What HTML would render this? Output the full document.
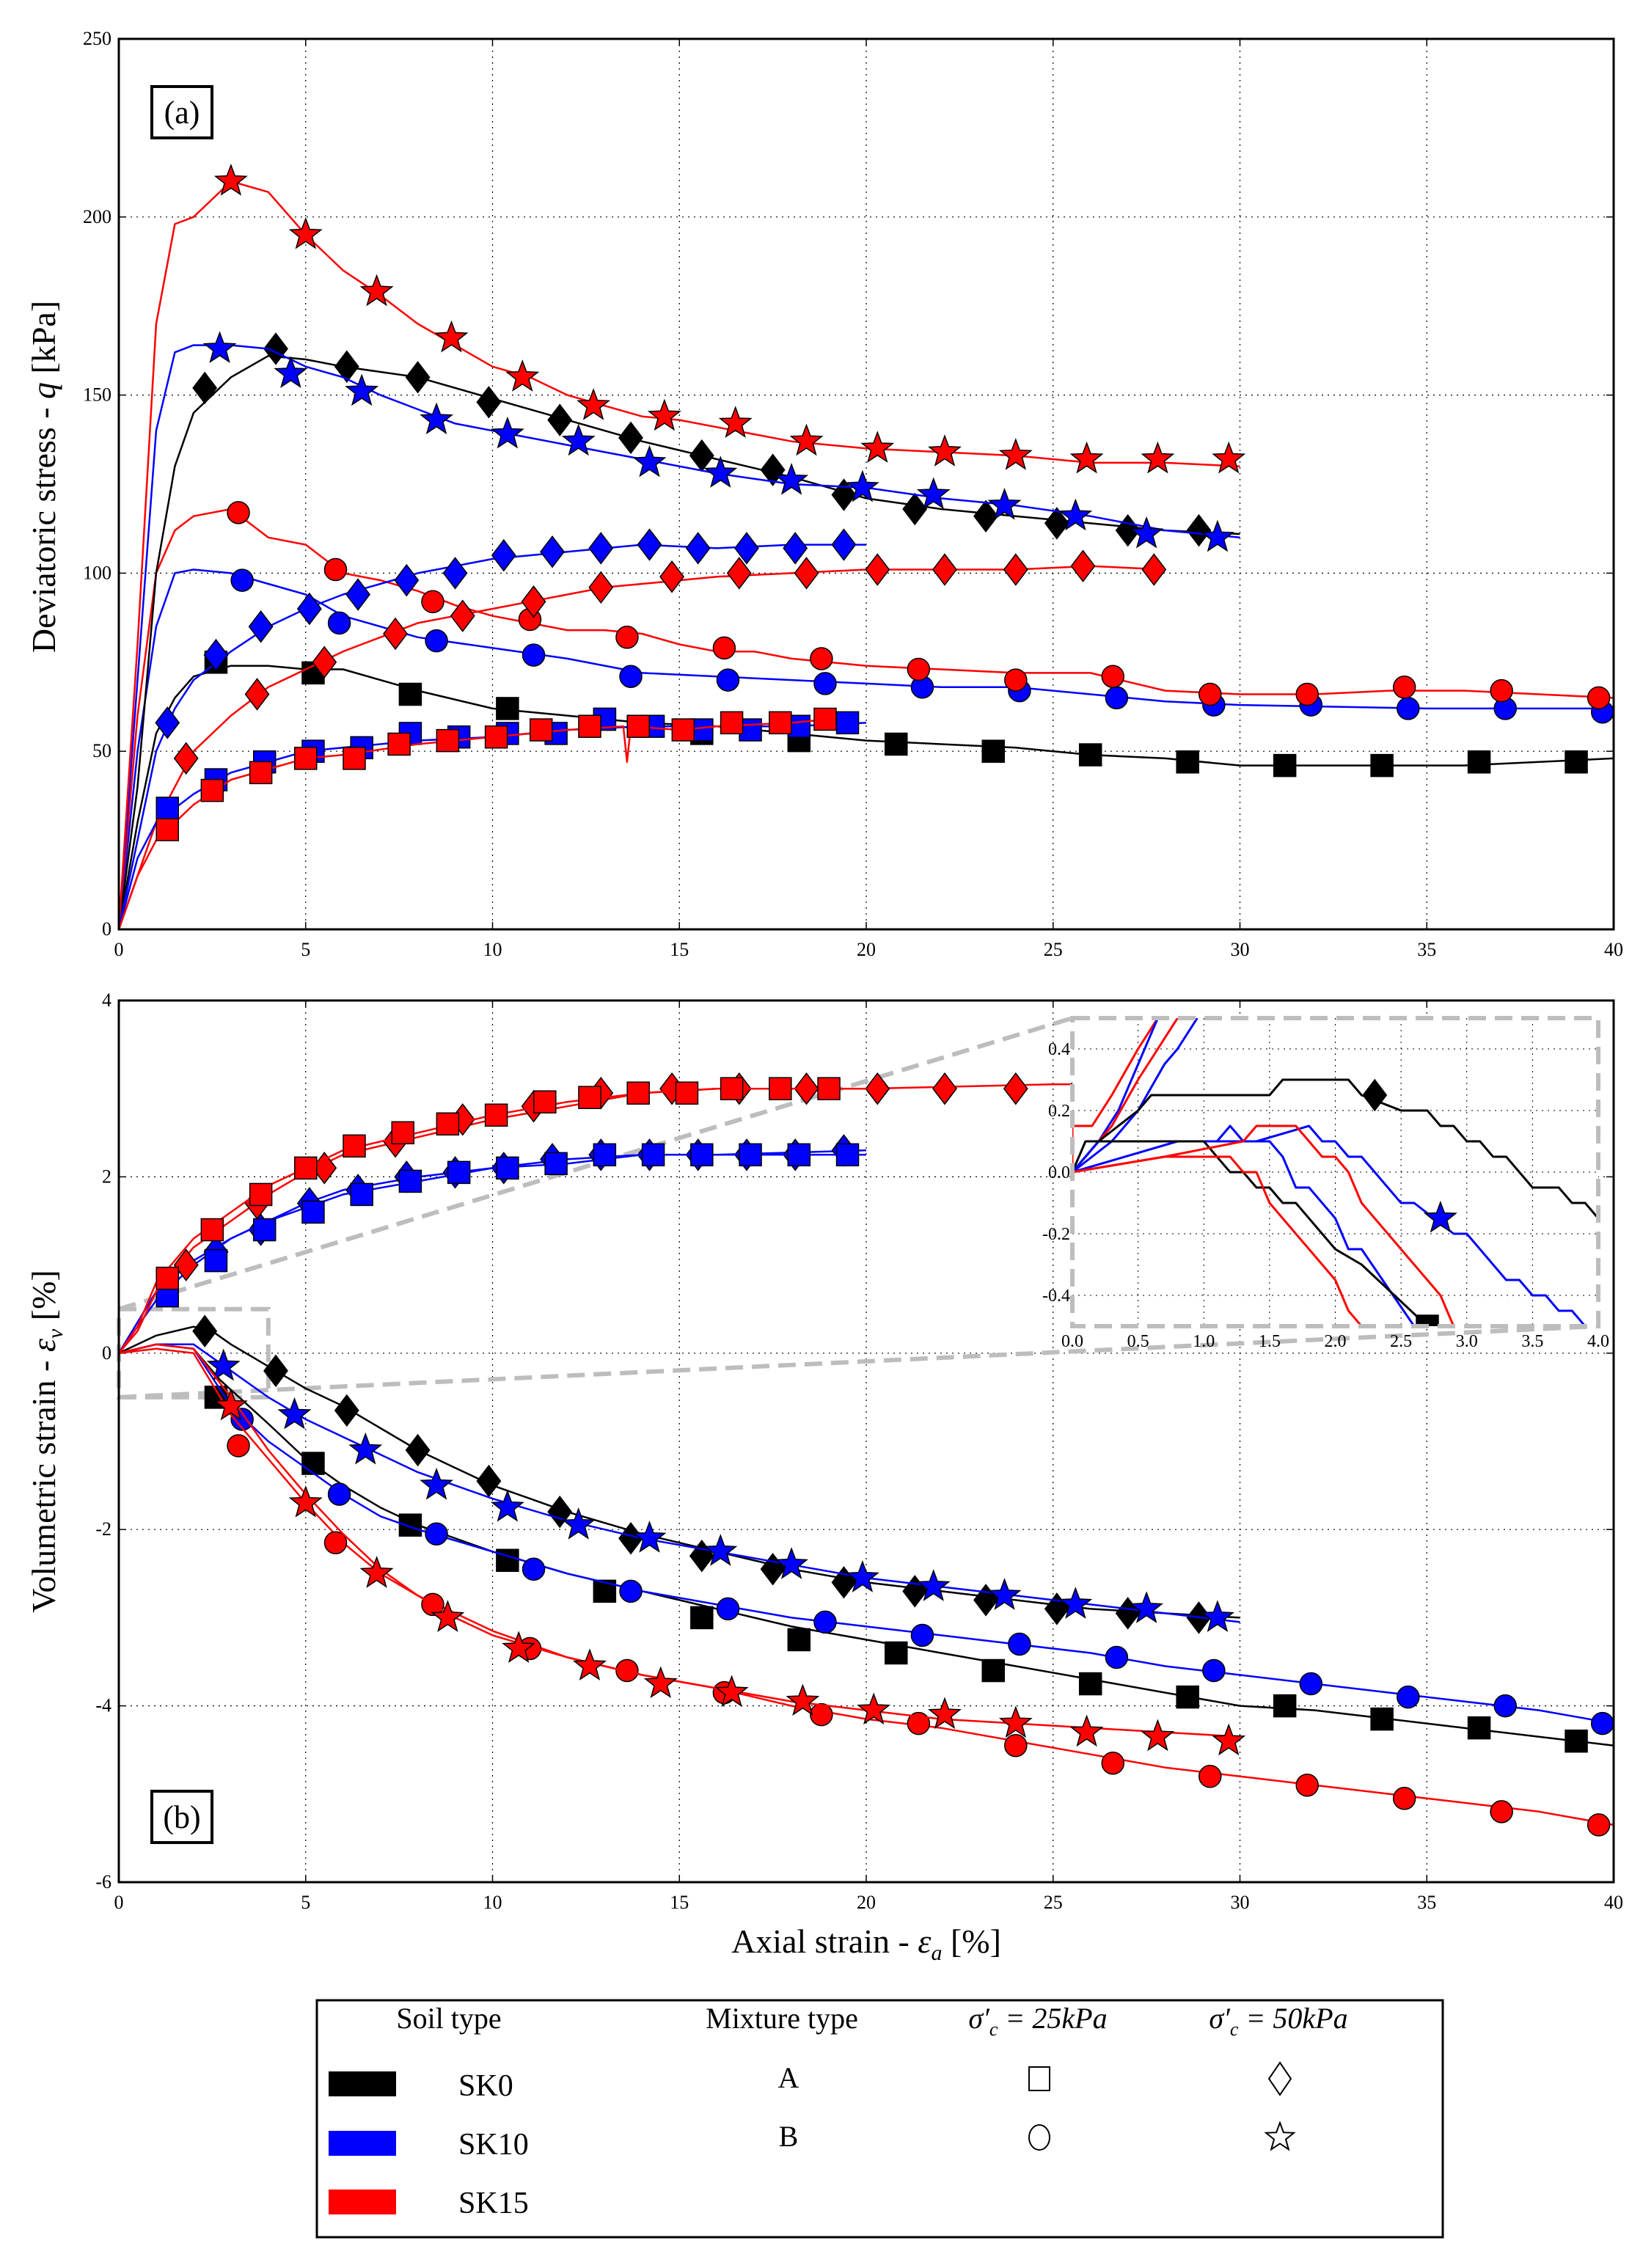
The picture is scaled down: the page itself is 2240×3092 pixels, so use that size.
<!DOCTYPE html>
<html><head><meta charset="utf-8">
<style>
html,body{margin:0;padding:0;background:#fff;}
svg, svg text{font-family:"Liberation Serif","DejaVu Serif",serif;}
</style></head>
<body>
<svg id="fig" width="2240" height="3087" viewBox="0 0 2240 3087" xmlns="http://www.w3.org/2000/svg" font-family="Liberation Serif, DejaVu Serif, serif">
<rect width="2240" height="3087" fill="#fff"/>
<g id="gA"></g>
<g id="gB"></g>
<g id="gI"></g>
<g id="legend">
  <rect x="432" y="2727" width="1535" height="323" fill="#fff" stroke="#000" stroke-width="3"/>
  <text x="612" y="2765" font-size="40" text-anchor="middle">Soil type</text>
  <text x="1066" y="2765" font-size="40" text-anchor="middle">Mixture type</text>
  <text x="1415" y="2765" font-size="40" text-anchor="middle" font-style="italic">σ′<tspan font-size="26" dy="10">c</tspan><tspan dy="-10"> = 25kPa</tspan></text>
  <text x="1743" y="2765" font-size="40" text-anchor="middle" font-style="italic">σ′<tspan font-size="26" dy="10">c</tspan><tspan dy="-10"> = 50kPa</tspan></text>
  <rect x="448" y="2824" width="92" height="34" fill="#000"/>
  <rect x="448" y="2905" width="92" height="34" fill="#0000ff"/>
  <rect x="448" y="2985" width="92" height="34" fill="#ff0000"/>
  <text x="625" y="2857" font-size="42">SK0</text>
  <text x="625" y="2937" font-size="42">SK10</text>
  <text x="625" y="3017" font-size="42">SK15</text>
  <text x="1075" y="2846" font-size="40" text-anchor="middle">A</text>
  <text x="1075" y="2926" font-size="40" text-anchor="middle">B</text>
  <rect x="1403" y="2818" width="28" height="32" fill="none" stroke="#000" stroke-width="2"/>
  <ellipse cx="1417" cy="2914" rx="14" ry="17" fill="none" stroke="#000" stroke-width="2"/>
  <polygon points="1745,2812 1760,2834 1745,2856 1730,2834" fill="none" stroke="#000" stroke-width="2"/>
  <polygon id="legstar" fill="none" stroke="#000" stroke-width="2"/>
</g>
</svg>
<script>
const catSeries = ["SK0-A-25","SK10-A-25","SK15-A-25","SK0-B-25","SK10-B-25","SK15-B-25","SK0-A-50","SK10-A-50","SK15-A-50","SK0-B-50","SK10-B-50","SK15-B-50"];
const xTicks = [0,5,10,15,20,25,30,35,40];
const yTicksA = [0,50,100,150,200,250];
const yTicksB = [-6,-4,-2,0,2,4];
const insetXTicks = ["0.0","0.5","1.0","1.5","2.0","2.5","3.0","3.5","4.0"];
const insetYTicks = ["-0.4","-0.2","0.0","0.2","0.4"];

const aSqK_x=[0,0.5,1,1.5,2,3,4,5,6,7,8,10,12,14,16,18,20,22,24,26,28,30,32,34,36,38,40];
const aSqK_y=[0,30,55,65,71,74,74,73,73,70,67,62,60,58,57,55,53,52,51,49,48,46,46,46,46,47,48];
const aSqK_mx=[2.6,5.2,7.8,10.4,13,15.6,18.2,20.8,23.4,26,28.6,31.2,33.8,36.4,39];
const aSqK_my=[75,72,66,62,59,55,53,52,50,49,47,46,46,47,47];
const aSqB_x=[0,0.5,1,2,3,4,5,6,8,10,12,14,16,18,20];
const aSqB_y=[0,20,30,38,44,47,50,51,53,54,56,57,57,57,58];
const aSqB_mx=[1.3,2.6,3.9,5.2,6.5,7.8,9.1,10.4,11.7,13,14.3,15.6,16.9,18.2,19.5];
const aSqB_my=[34,42,47,50,51,55,54,55,55,59,57,56,56,57,58];
const aSqR_x=[0,0.5,1,2,3,4,5,6,8,10,12,13.5,13.6,13.7,15,16,18,19];
const aSqR_y=[0,15,25,35,42,45,48,49,52,54,56,57,47,57,56,57,58,59];
const aSqR_mx=[1.3,2.5,3.8,5,6.3,7.5,8.8,10.1,11.3,12.6,13.9,15.1,16.4,17.7,18.9];
const aSqR_my=[28,39,44,48,48,52,53,54,56,57,57,56,58,58,59];
const aCiB_x=[0,0.5,1,1.5,2,3,4,5,6,7,8,10,12,14,16,18,20,22,24,26,28,30,35,40];
const aCiB_y=[0,50,85,100,101,100,97,94,88,85,82,79,76,72,71,70,69,68,68,66,64,63,62,62];
const aCiB_mx=[3.3,5.9,8.5,11.1,13.7,16.3,18.9,21.5,24.1,26.7,29.3,31.9,34.5,37.1,39.7];
const aCiB_my=[98,86,81,77,71,70,69,68,67,65,63,63,62,62,61];
const aCiR_x=[0,0.5,1,1.5,2,3,4,5,6,7,8,9,10,11,12,13,14,15,16,17,18,20,22,24,26,28,30,32,34,36,38,40];
const aCiR_y=[0,60,100,112,116,118,110,108,100,98,95,91,88,86,84,84,83,80,78,78,76,74,73,72,72,67,66,66,67,67,66,65];
const aCiR_mx=[3.2,5.8,8.4,11,13.6,16.2,18.8,21.4,24,26.6,29.2,31.8,34.4,37,39.6];
const aCiR_my=[117,101,92,87,82,79,76,73,70,71,66,66,68,67,65];
const aDiB_x=[0,0.5,1,1.5,2,3,4,5,6,7,8,10,12,14,16,18,20];
const aDiB_y=[0,25,50,62,70,78,85,90,94,97,100,104,106,108,107,108,108];
const aDiB_mx=[1.3,2.6,3.8,5.1,6.4,7.7,9,10.3,11.6,12.9,14.2,15.5,16.8,18.1,19.4];
const aDiB_my=[58,77,85,90,94,98,100,105,106,107,108,107,107,107,108];
const aDiR_x=[0,0.5,1,2,3,4,5,6,7,8,9,10,11,12,13,14,16,18,20,22,24,26,28];
const aDiR_y=[0,15,30,50,60,68,73,78,82,86,88,90,92,94,96,97,99,100,101,101,101,102,101];
const aDiR_mx=[1.8,3.7,5.5,7.4,9.2,11.1,12.9,14.8,16.6,18.4,20.3,22.1,24,25.8,27.7];
const aDiR_my=[48,66,75,83,88,92,96,99,100,100,101,101,101,102,101];
const aDiK_x=[0,0.5,1,1.5,2,3,4,5,6,8,10,12,14,16,18,20,22,24,26,28,30];
const aDiK_y=[0,40,100,130,145,155,161,160,158,155,149,143,137,132,127,121,118,116,114,112,111];
const aDiK_mx=[2.3,4.2,6.1,8,9.9,11.8,13.7,15.6,17.5,19.4,21.3,23.2,25.1,27,28.9];
const aDiK_my=[152,163,158,155,148,143,138,133,129,122,118,116,114,112,112];
const aStB_x=[0,0.5,1,1.5,2,3,4,5,6,7,8,9,10,11,12,14,16,18,20,22,24,26,28,30];
const aStB_y=[0,70,140,162,164,164,163,158,155,150,146,142,140,138,136,132,128,125,124,121,119,116,112,110];
const aStB_mx=[2.7,4.6,6.5,8.5,10.4,12.3,14.2,16.1,18,19.9,21.8,23.7,25.6,27.5,29.4];
const aStB_my=[163,156,151,143,139,137,131,128,126,124,122,119,116,111,110];
const aStR_x=[0,0.5,1,1.5,2,2.5,3,4,5,6,7,8,9,10,11,12,13,14,15,16,18,20,22,24,26,28,30];
const aStR_y=[0,80,170,198,200,205,210,207,195,185,178,170,164,158,155,150,147,144,143,141,137,135,134,133,131,131,130];
const aStR_mx=[3,5,6.9,8.9,10.8,12.7,14.6,16.5,18.4,20.3,22.1,24,25.9,27.8,29.7];
const aStR_my=[210,195,179,166,155,147,144,142,137,135,134,133,132,132,132];

const bSqR_x=[0,0.5,1,2,3,4,5,6,7,8,10,12,14,16,20];
const bSqR_y=[0,0.3,0.8,1.3,1.6,1.9,2.1,2.3,2.4,2.5,2.7,2.85,2.95,3.0,3.0];
const bSqR_mx=[1.3,2.5,3.8,5,6.3,7.6,8.8,10.1,11.4,12.6,13.9,15.2,16.4,17.7,19];
const bSqR_my=[0.85,1.4,1.8,2.1,2.35,2.5,2.6,2.7,2.85,2.9,2.95,2.95,3.0,3.0,3.0];
const bDiR_x=[0,0.5,1,2,3,4,5,6,7,8,10,12,14,16,20,25,30];
const bDiR_y=[0,0.25,0.7,1.2,1.5,1.8,2.05,2.25,2.35,2.45,2.65,2.8,2.95,3.0,3.0,3.05,3.05];
const bDiR_mx=[1.8,3.7,5.5,7.4,9.2,11.1,12.9,14.8,16.6,18.4,20.3,22.1,24,25.8];
const bDiR_my=[1.0,1.7,2.1,2.4,2.65,2.8,2.95,3.0,3.0,3.0,3.0,3.0,3.0,3.05];
const bSqB_x=[0,1,2,3,4,5,6,8,10,12,14,16,20];
const bSqB_y=[0,0.6,1.0,1.3,1.5,1.65,1.8,1.95,2.1,2.15,2.25,2.25,2.25];
const bSqB_mx=[1.3,2.6,3.9,5.2,6.5,7.8,9.1,10.4,11.7,13,14.3,15.6,16.9,18.2,19.5];
const bSqB_my=[0.65,1.05,1.4,1.6,1.8,1.95,2.05,2.1,2.15,2.25,2.25,2.25,2.25,2.25,2.25];
const bDiB_x=[0,1,2,3,4,5,6,8,10,12,14,16,20];
const bDiB_y=[0,0.7,1.05,1.3,1.5,1.7,1.85,2.0,2.1,2.2,2.25,2.25,2.3];
const bDiB_mx=[2.6,3.8,5.1,6.4,7.7,9,10.3,11.6,12.9,14.2,15.5,16.8,18.1,19.4];
const bDiB_my=[1.15,1.4,1.7,1.85,2.0,2.05,2.1,2.2,2.25,2.25,2.25,2.25,2.25,2.3];
const bDiK_x=[0,1,2,2.5,3,4,5,6,7,8,9,10,11,12,14,16,18,20,22,24,26,28,30];
const bDiK_y=[0,0.2,0.3,0.25,0.1,-0.15,-0.4,-0.6,-0.85,-1.1,-1.3,-1.5,-1.65,-1.8,-2.05,-2.25,-2.45,-2.6,-2.7,-2.8,-2.9,-2.95,-3.0];
const bDiK_mx=[2.3,4.2,6.1,8,9.9,11.8,13.7,15.6,17.5,19.4,21.3,23.2,25.1,27,28.9];
const bDiK_my=[0.25,-0.2,-0.65,-1.1,-1.45,-1.8,-2.1,-2.3,-2.45,-2.6,-2.7,-2.8,-2.9,-2.95,-3.0];
const bStB_x=[0,1,2,3,4,5,6,7,8,10,12,14,16,18,20,22,24,26,28,30];
const bStB_y=[0,0.1,0.1,-0.2,-0.5,-0.75,-0.95,-1.15,-1.35,-1.65,-1.9,-2.1,-2.25,-2.4,-2.55,-2.65,-2.75,-2.85,-2.95,-3.05];
const bStB_mx=[2.8,4.7,6.6,8.5,10.4,12.3,14.2,16.1,18,19.9,21.8,23.7,25.6,27.5,29.4];
const bStB_my=[-0.15,-0.7,-1.1,-1.5,-1.75,-1.95,-2.1,-2.25,-2.4,-2.55,-2.65,-2.75,-2.85,-2.9,-3.0];
const bCiB_x=[0,1,2,3,4,5,6,7,8,10,12,14,16,18,20,22,24,26,28,30,32,34,36,38,40];
const bCiB_y=[0,0.1,0.05,-0.6,-1.0,-1.3,-1.6,-1.85,-2.0,-2.25,-2.5,-2.7,-2.85,-3.0,-3.1,-3.2,-3.3,-3.4,-3.55,-3.65,-3.75,-3.85,-3.95,-4.05,-4.2];
const bCiB_mx=[3.3,5.9,8.5,11.1,13.7,16.3,18.9,21.5,24.1,26.7,29.3,31.9,34.5,37.1,39.7];
const bCiB_my=[-0.75,-1.6,-2.05,-2.45,-2.7,-2.9,-3.05,-3.2,-3.3,-3.45,-3.6,-3.75,-3.9,-4.0,-4.2];
const bSqK_x=[0,1,2,2.7,4,5,6,7,8,10,12,14,16,18,20,22,24,26,28,30,32,34,36,38,40];
const bSqK_y=[0,0.1,0.05,-0.3,-0.8,-1.2,-1.5,-1.75,-1.95,-2.25,-2.5,-2.7,-2.9,-3.1,-3.25,-3.4,-3.55,-3.7,-3.85,-4.0,-4.05,-4.15,-4.25,-4.35,-4.45];
const bSqK_mx=[2.6,5.2,7.8,10.4,13,15.6,18.2,20.8,23.4,26,28.6,31.2,33.8,36.4,39];
const bSqK_my=[-0.5,-1.25,-1.95,-2.35,-2.7,-3.0,-3.25,-3.4,-3.6,-3.75,-3.9,-4.0,-4.15,-4.25,-4.4];
const bStR_x=[0,1,2,3,4,5,6,7,8,9,10,12,14,16,18,20,22,24,26,28,30];
const bStR_y=[0,0.1,0.05,-0.5,-1.1,-1.6,-2.05,-2.45,-2.75,-3.0,-3.2,-3.45,-3.65,-3.8,-3.95,-4.05,-4.15,-4.2,-4.25,-4.3,-4.35];
const bStR_mx=[3,5,6.9,8.8,10.7,12.6,14.5,16.4,18.3,20.2,22.1,24,25.9,27.8,29.7];
const bStR_my=[-0.6,-1.7,-2.5,-3.0,-3.35,-3.55,-3.75,-3.85,-3.95,-4.05,-4.1,-4.2,-4.3,-4.35,-4.4];
const bCiR_x=[0,1,2,3,4,5,6,7,8,10,12,14,16,18,20,22,24,26,28,30,32,34,36,38,40];
const bCiR_y=[0,0.05,0,-0.7,-1.2,-1.7,-2.15,-2.5,-2.75,-3.15,-3.45,-3.65,-3.8,-4.0,-4.15,-4.25,-4.4,-4.55,-4.7,-4.8,-4.9,-5.0,-5.1,-5.2,-5.35];
const bCiR_mx=[3.2,5.8,8.4,11,13.6,16.2,18.8,21.4,24,26.6,29.2,31.8,34.4,37,39.6];
const bCiR_my=[-1.05,-2.15,-2.85,-3.35,-3.6,-3.85,-4.1,-4.2,-4.45,-4.65,-4.8,-4.9,-5.05,-5.2,-5.35];

const iDiK_x=[0,0.2,0.5,0.6,0.8,1.5,1.6,2.1,2.2,2.5,2.7,2.8,2.9,3.0,3.1,3.2,3.3,3.5,3.7,3.8,3.9,4.0];
const iDiK_y=[0,0.1,0.2,0.25,0.25,0.25,0.3,0.3,0.25,0.2,0.2,0.15,0.15,0.1,0.1,0.05,0.05,-0.05,-0.05,-0.1,-0.1,-0.15];
const iStB_x=[0,0.2,1.1,1.2,1.3,1.4,1.8,1.9,2.0,2.1,2.2,2.5,2.6,2.75,2.9,3.0,3.3,3.4,3.5,3.6,3.7,3.8,3.9];
const iStB_y=[0,0.1,0.1,0.15,0.1,0.1,0.15,0.1,0.1,0.05,0.05,-0.1,-0.1,-0.15,-0.2,-0.2,-0.35,-0.35,-0.4,-0.4,-0.45,-0.45,-0.5];
const iCiB_x=[0,0.8,1.5,1.6,1.7,1.8,2.0,2.1,2.2,2.6];
const iCiB_y=[0,0.1,0.1,0.05,-0.05,-0.05,-0.15,-0.25,-0.25,-0.5];
const iSqK_x=[0,0.1,1.0,1.2,1.3,1.4,1.5,1.6,1.7,2.0,2.2,2.7];
const iSqK_y=[0,0.1,0.1,0.0,0.0,-0.05,-0.05,-0.1,-0.1,-0.25,-0.3,-0.5];
const iStR_x=[0,0.7,1.3,1.4,1.7,1.9,2.0,2.1,2.2,2.8,2.9];
const iStR_y=[0,0.05,0.1,0.15,0.15,0.05,0.05,0,-0.1,-0.4,-0.5];
const iCiR_x=[0,0.7,1.2,1.3,1.4,1.5,1.7,2.0,2.1,2.2];
const iCiR_y=[0,0.05,0.05,0,0,-0.1,-0.2,-0.35,-0.45,-0.5];
const iUpR1_x=[0,0,0.15,0.3,0.5,0.65];
const iUpR1_y=[0,0.15,0.15,0.25,0.4,0.5];
const iUpB1_x=[0,0.2,0.35,0.5,0.65];
const iUpB1_y=[0,0.1,0.2,0.35,0.5];
const iUpR2_x=[0,0.3,0.5,0.8];
const iUpR2_y=[0,0.15,0.3,0.5];
const iUpB2_x=[0,0.3,0.5,0.7,0.8,0.95];
const iUpB2_y=[0,0.1,0.2,0.35,0.4,0.5];

const NS="http://www.w3.org/2000/svg";
const FF="Liberation Serif, DejaVu Serif, serif";
const K="#000", B="#0000ff", R="#ff0000";
function mk(tag, attrs, parent){const e=document.createElementNS(NS,tag);for(const k in attrs)e.setAttribute(k,attrs[k]);if(tag==='text')e.setAttribute('font-family',FF);parent.appendChild(e);return e;}
document.querySelectorAll('#legend text').forEach(t=>t.setAttribute('font-family',FF));

const L=162, Rr=2200;
const sx = v => L + v*(Rr-L)/40;
const syA = v => 1267 - v*(1267-53)/250;
const syB = v => 2566 - (v+6)*(2566-1364)/10;

function starPts(cx,cy,r){let p=[];for(let i=0;i<10;i++){const a=-Math.PI/2+i*Math.PI/5;const rr=i%2?r*0.42:r;p.push((cx+rr*Math.cos(a)).toFixed(1)+","+(cy+rr*Math.sin(a)).toFixed(1));}return p.join(" ");}
document.getElementById('legstar').setAttribute('points',starPts(1745,2914,20));

function marker(g,type,cx,cy,col,name,scale){
  scale=scale||1;let e;
  if(type==="sq") e=mk('rect',{x:cx-15*scale,y:cy-15*scale,width:30*scale,height:30*scale},g);
  else if(type==="ci") e=mk('circle',{cx:cx,cy:cy,r:15*scale},g);
  else if(type==="di") e=mk('polygon',{points:`${cx},${cy-21*scale} ${cx+16*scale},${cy} ${cx},${cy+21*scale} ${cx-16*scale},${cy}`},g);
  else e=mk('polygon',{points:starPts(cx,cy,22*scale)},g);
  e.setAttribute('fill',col);e.setAttribute('stroke','#000');e.setAttribute('stroke-width','1.5');
  
  
}
function series(g,xs,ys,mx,my,fx,fy,col,type,name,lw){
  const pl=mk('polyline',{points:xs.map((x,i)=>fx(x).toFixed(1)+","+fy(ys[i]).toFixed(1)).join(" "),fill:"none",stroke:col,"stroke-width":lw||2.5,"stroke-linejoin":"round"},g);
  
  
  if(mx) mx.forEach((x,i)=>marker(g,type,fx(x),fy(my[i]),col,name+'-marker'));
}
function axes(g,top,bot,yt,fy,label,labelY){
  xTicks.forEach(t=>{ if(t>0&&t<40){const l=mk('line',{x1:sx(t),x2:sx(t),y1:top,y2:bot,stroke:"#000","stroke-width":1.2,"stroke-dasharray":"2,6"},g);
    
    }});
  yt.forEach(t=>{const y=fy(t); if(y>top+2&&y<bot-2){const l=mk('line',{x1:L,x2:Rr,y1:y,y2:y,stroke:"#000","stroke-width":1.2,"stroke-dasharray":"2,6"},g);
    
    }});
  xTicks.forEach(t=>{const tx=mk('text',{x:sx(t),y:bot+36,"font-size":26,"text-anchor":"middle"},g);tx.textContent=t;
    
    
    mk('line',{x1:sx(t),x2:sx(t),y1:bot,y2:bot-10,stroke:"#000","stroke-width":1.5},g);
    mk('line',{x1:sx(t),x2:sx(t),y1:top,y2:top+10,stroke:"#000","stroke-width":1.5},g);});
  yt.forEach(t=>{const tx=mk('text',{x:L-10,y:fy(t)+8,"font-size":26,"text-anchor":"end"},g);tx.textContent=t;
    
    
    mk('line',{x1:L,x2:L+10,y1:fy(t),y2:fy(t),stroke:"#000","stroke-width":1.5},g);
    mk('line',{x1:Rr,x2:Rr-10,y1:fy(t),y2:fy(t),stroke:"#000","stroke-width":1.5},g);});
  const yl=mk('text',{x:0,y:0,"font-size":46,"text-anchor":"middle",transform:`translate(75,${labelY}) rotate(-90)`},g);
  yl.innerHTML=label;
  
  
}
function frame(g,top,bot){const f=mk('rect',{x:L,y:top,width:Rr-L,height:bot-top,fill:"none",stroke:"#000","stroke-width":3},g);
  
  }
function tag(g,x,y,t,name){const r=mk('rect',{x:x,y:y,width:82,height:70,fill:"#fff",stroke:"#000","stroke-width":4},g);
  
  
  const tx=mk('text',{x:x+41,y:y+50,"font-size":44,"text-anchor":"middle"},g);tx.textContent=t;
  
  }

const gA=document.getElementById('gA');
axes(gA,53,1267,yTicksA,syA,'Deviatoric stress - <tspan font-style="italic">q</tspan> [kPa]',650);
series(gA,aSqK_x,aSqK_y,aSqK_mx,aSqK_my,sx,syA,K,"sq","sk0-a-25");
series(gA,aCiB_x,aCiB_y,aCiB_mx,aCiB_my,sx,syA,B,"ci","sk10-b-25");
series(gA,aCiR_x,aCiR_y,aCiR_mx,aCiR_my,sx,syA,R,"ci","sk15-b-25");
series(gA,aDiK_x,aDiK_y,aDiK_mx,aDiK_my,sx,syA,K,"di","sk0-b-50");
series(gA,aStB_x,aStB_y,aStB_mx,aStB_my,sx,syA,B,"st","sk10-b-50");
series(gA,aStR_x,aStR_y,aStR_mx,aStR_my,sx,syA,R,"st","sk15-b-50");
series(gA,aDiR_x,aDiR_y,aDiR_mx,aDiR_my,sx,syA,R,"di","sk15-a-50");
series(gA,aDiB_x,aDiB_y,aDiB_mx,aDiB_my,sx,syA,B,"di","sk10-a-50");
series(gA,aSqB_x,aSqB_y,aSqB_mx,aSqB_my,sx,syA,B,"sq","sk10-a-25");
series(gA,aSqR_x,aSqR_y,aSqR_mx,aSqR_my,sx,syA,R,"sq","sk15-a-25");
frame(gA,53,1267);
tag(gA,207,118,"(a)","panel-a-tag");

const gB=document.getElementById('gB');
axes(gB,1364,2566,yTicksB,syB,'Volumetric strain - <tspan font-style="italic">ε</tspan><tspan font-style="italic" font-size="30" dy="10">v</tspan><tspan dy="-10"> [%]</tspan>',1965);
const zr=mk('rect',{x:sx(0),y:syB(0.5),width:sx(4)-sx(0),height:syB(-0.5)-syB(0.5),fill:"none",stroke:"#bdbdbd","stroke-width":6,"stroke-dasharray":"24,12"},gB);


const c1=mk('line',{x1:sx(0),y1:syB(0.5),x2:1462,y2:1388,stroke:"#bdbdbd","stroke-width":6,"stroke-dasharray":"24,12"},gB);


const c2=mk('line',{x1:sx(0),y1:syB(-0.5),x2:2179,y2:1808,stroke:"#bdbdbd","stroke-width":6,"stroke-dasharray":"24,12"},gB);


series(gB,bSqK_x,bSqK_y,bSqK_mx,bSqK_my,sx,syB,K,"sq","sk0-a-25");
series(gB,bCiB_x,bCiB_y,bCiB_mx,bCiB_my,sx,syB,B,"ci","sk10-b-25");
series(gB,bCiR_x,bCiR_y,bCiR_mx,bCiR_my,sx,syB,R,"ci","sk15-b-25");
series(gB,bDiK_x,bDiK_y,bDiK_mx,bDiK_my,sx,syB,K,"di","sk0-b-50");
series(gB,bStB_x,bStB_y,bStB_mx,bStB_my,sx,syB,B,"st","sk10-b-50");
series(gB,bStR_x,bStR_y,bStR_mx,bStR_my,sx,syB,R,"st","sk15-b-50");
series(gB,bDiB_x,bDiB_y,bDiB_mx,bDiB_my,sx,syB,B,"di","sk10-a-50");
series(gB,bSqB_x,bSqB_y,bSqB_mx,bSqB_my,sx,syB,B,"sq","sk10-a-25");
series(gB,bDiR_x,bDiR_y,bDiR_mx,bDiR_my,sx,syB,R,"di","sk15-a-50");
series(gB,bSqR_x,bSqR_y,bSqR_mx,bSqR_my,sx,syB,R,"sq","sk15-a-25");
frame(gB,1364,2566);
tag(gB,207,2442,"(b)","panel-b-tag");
const xl=mk('text',{x:1181,y:2662,"font-size":46,"text-anchor":"middle"},gB);
xl.innerHTML='Axial strain - <tspan font-style="italic">ε</tspan><tspan font-style="italic" font-size="30" dy="10">a</tspan><tspan dy="-10"> [%]</tspan>';



const gI=document.getElementById('gI');
const IL=1462, IR=2179, IT=1388, IB=1808;
const ix = v => IL + v*(IR-IL)/4;
const iy = v => IT + (0.5-v)*(IB-IT);
const ibg=mk('rect',{x:IL,y:IT,width:IR-IL,height:IB-IT,fill:"#fff"},gI);


insetXTicks.forEach((t,i)=>{const x=ix(i*0.5);
  if(i>0&&i<8) mk('line',{x1:x,x2:x,y1:IT,y2:IB,stroke:"#000","stroke-width":1,"stroke-dasharray":"2,6"},gI);
  const tx=mk('text',{x:x,y:IB+28,"font-size":24,"text-anchor":"middle"},gI);tx.textContent=t;
  
  });
insetYTicks.forEach(t=>{const y=iy(parseFloat(t));
  mk('line',{x1:IL,x2:IR,y1:y,y2:y,stroke:"#000","stroke-width":1,"stroke-dasharray":"2,6"},gI);
  const tx=mk('text',{x:IL-3,y:y+8,"font-size":24,"text-anchor":"end"},gI);tx.textContent=t;
  
  });
const clip=mk('clipPath',{id:"ic"},gI);mk('rect',{x:IL,y:IT,width:IR-IL,height:IB-IT},clip);
const gIc=mk('g',{"clip-path":"url(#ic)"},gI);


series(gIc,iUpR1_x,iUpR1_y,null,null,ix,iy,R,"sq","inset-sk15-a-25",3);
series(gIc,iUpB1_x,iUpB1_y,null,null,ix,iy,B,"sq","inset-sk10-a-25",3);
series(gIc,iUpR2_x,iUpR2_y,null,null,ix,iy,R,"di","inset-sk15-a-50",3);
series(gIc,iUpB2_x,iUpB2_y,null,null,ix,iy,B,"di","inset-sk10-a-50",3);
series(gIc,iDiK_x,iDiK_y,[2.3],[0.25],ix,iy,K,"di","inset-sk0-b-50",3);
series(gIc,iStB_x,iStB_y,[2.8],[-0.15],ix,iy,B,"st","inset-sk10-b-50",3);
series(gIc,iCiB_x,iCiB_y,null,null,ix,iy,B,"ci","inset-sk10-b-25",3);
series(gIc,iSqK_x,iSqK_y,[2.7],[-0.5],ix,iy,K,"sq","inset-sk0-a-25",3);
series(gIc,iStR_x,iStR_y,null,null,ix,iy,R,"st","inset-sk15-b-50",3);
series(gIc,iCiR_x,iCiR_y,null,null,ix,iy,R,"ci","inset-sk15-b-25",3);
const ifr=mk('rect',{x:IL,y:IT,width:IR-IL,height:IB-IT,fill:"none",stroke:"#bdbdbd","stroke-width":6,"stroke-dasharray":"24,12"},gI);


</script>
</body></html>
